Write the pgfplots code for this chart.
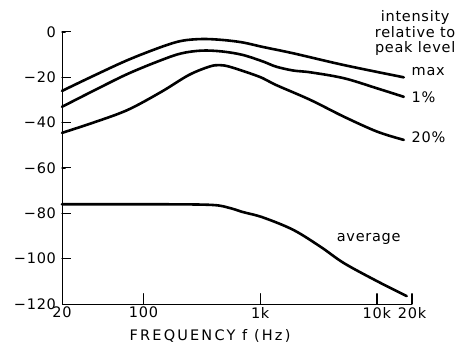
\documentclass[border=0pt]{standalone}
\usepackage{fontspec}
\setmainfont[LetterSpace=5]{DejaVu Sans}
\usepackage{pgfplots}
\pgfplotsset{compat=1.18}
\begin{document}
\fontsize{14.5}{15.5}\selectfont
\begin{tikzpicture}
\begin{axis}[
  scale only axis,
  width=350pt, height=272pt,
  xmode=log,
  xmin=20, xmax=20000,
  ymin=-120, ymax=0,
  axis x line*=bottom,
  axis y line*=left,
  axis line style={line width=1pt},
  xtick align=inside, ytick align=inside,
  xtick={20,100,1000,10000,20000},
  xticklabels={20,100,1k,10k,20k},
  ytick={-120,-100,-80,-60,-40,-20,0},
  yticklabels={−120,−100,−80,−60,−40,−20,0},
  /pgf/number format/assume math mode=true,
  tick label style={font=\fontsize{14.5}{15.5}\selectfont},
  xticklabel style={yshift=2pt},
  yticklabel style={xshift=-1pt},
  xlabel={\addfontfeature{LetterSpace=15}FREQUENCY f (Hz)},
  xlabel style={at={(rel axis cs:0.423,0)}, anchor=north, yshift=-20pt, font=\fontsize{14.5}{15.5}\selectfont},
  clip=false,
  cycle list={{black}},
  every axis plot/.append style={line width=2.6pt, line cap=round, line join=round, black, no marks},
  major tick length=9pt,
  every major tick/.append style={line width=1pt, black},
]
% max
\addplot+[smooth, tension=0.55] coordinates {(20,-26) (37,-19.4) (73,-12.4) (142,-6.6) (212,-3.9) (317,-3.1) (473,-3.5) (706,-4.6) (1054,-6.6) (1920,-9.4) (5230,-14.6) (17000,-20)};
% 1%
\addplot+[smooth, tension=0.55] coordinates {(20,-33) (37,-26) (73,-18.5) (142,-12.4) (212,-9.4) (317,-8.2) (473,-8.6) (706,-10.1) (1054,-13) (1370,-15.3) (1920,-17) (2700,-17.8) (5230,-20.4) (10100,-24.9) (17000,-28.6)};
% 20%
\addplot+[smooth, tension=0.55] coordinates {(20,-44.5) (37,-40) (73,-34.4) (142,-26.4) (244,-19) (365,-15.3) (445,-14.6) (544,-15.3) (812,-18.2) (1054,-20.4) (1370,-23.4) (2700,-30) (5230,-37.4) (10100,-44) (17000,-47.6)};
% average
\addplot+[smooth, tension=0.55] coordinates {(20,-76) (142,-76) (387,-76.3) (544,-77.6) (706,-79.4) (1054,-81.8) (1920,-87.3) (3300,-94.8) (5230,-102) (10100,-110) (18000,-116.5)};
% inside tick marks, one short segment each
\addplot[line width=1.3pt, black, forget plot] coordinates {(100,-120) (100,-115.5)};
\addplot[line width=1.3pt, black, forget plot] coordinates {(1000,-120) (1000,-115.5)};
\addplot[line width=1.3pt, black, forget plot] coordinates {(10000,-120) (10000,-115.5)};
\addplot[line width=1.3pt, black, forget plot] coordinates {(20000,-120) (20000,-115.5)};
\addplot[line width=1.3pt, black, forget plot] coordinates {(20,-100) (21.3,-100)};
\addplot[line width=1.3pt, black, forget plot] coordinates {(20,-80) (21.3,-80)};
\addplot[line width=1.3pt, black, forget plot] coordinates {(20,-60) (21.3,-60)};
\addplot[line width=1.3pt, black, forget plot] coordinates {(20,-40) (21.3,-40)};
\addplot[line width=1.3pt, black, forget plot] coordinates {(20,-20) (21.3,-20)};
\addplot[line width=1.3pt, black, forget plot] coordinates {(20,0) (21.3,0)};
\node[anchor=west] at (axis cs:18000,-17.6) {max};
\node[anchor=west] at (axis cs:18000,-28.7) {1\%};
\node[anchor=west] at (axis cs:18000,-46.3) {20\%};
\node[anchor=west] at (axis cs:4110,-91.3) {average};
\node[align=center, anchor=center, inner sep=0pt] at (rel axis cs:1.009,0.996) {intensity\\relative to\\peak level};
\end{axis}
\pgfresetboundingbox
\path ([shift={(-62pt,-44pt)}]current axis.south west) rectangle ([shift={(400pt,304pt)}]current axis.south west);
\end{tikzpicture}
\end{document}
